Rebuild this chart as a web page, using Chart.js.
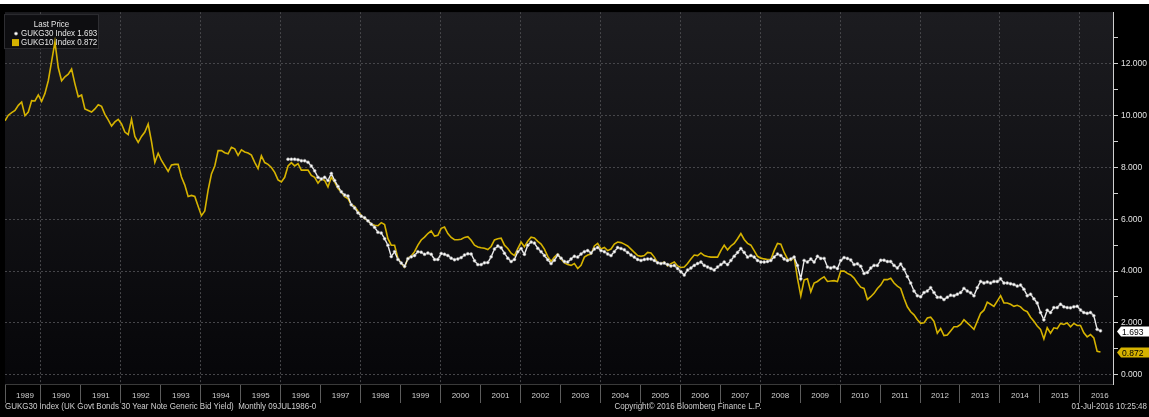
<!DOCTYPE html>
<html><head><meta charset="utf-8">
<script src="https://cdn.jsdelivr.net/npm/chart.js@4.4.0/dist/chart.umd.min.js"></script>
<style>
html,body{margin:0;padding:0;background:#fff;overflow:hidden;}
#strip{height:4px;background:#fff;}
#wrap{position:relative;width:1149px;height:413px;background:#000;}
canvas{display:block;}
</style></head><body>
<div id="strip"></div>
<div id="wrap"><canvas id="c" width="1149" height="413"></canvas></div>
<script>
// ---- data (monthly) ----
const seriesNames = ['GUKG30 Index', 'GUKG10 Index'];
const legendTitle = 'Last Price';
const yearLabels = ['1989','1990','1991','1992','1993','1994','1995','1996','1997','1998','1999','2000','2001','2002','2003','2004','2005','2006','2007','2008','2009','2010','2011','2012','2013','2014','2015','2016'];
const yTicks = [0,1,2,3,4,5,6,7,8,9,10,11,12,13];
const xMin = 1989.1, xMax = 2016.83;
const yMin = -0.36, yMax = 14.0;
const gukg10Start = 1989.1;          // first monthly point
const gukg30Start = 1989.1 + 85/12;  // first monthly point (early 1996)

const gukg10 = [
 9.8,10.02,10.12,10.2,10.4,10.53,10.0,10.14,10.58,10.57,10.8,10.55,
 10.86,11.35,12.1,12.85,11.85,11.35,11.5,11.6,11.8,11.23,10.73,10.8,
 10.26,10.2,10.14,10.26,10.42,10.36,10.05,9.84,9.6,9.76,9.86,9.68,
 9.37,9.27,9.86,9.2,8.97,9.2,9.37,9.68,9.0,8.2,8.55,8.27,
 8.06,7.85,8.1,8.12,8.12,7.63,7.32,6.88,6.92,6.88,6.5,6.14,
 6.32,7.13,7.75,8.06,8.65,8.65,8.57,8.53,8.78,8.72,8.47,8.68,
 8.6,8.56,8.48,8.2,7.96,8.45,8.19,8.12,8.0,7.81,7.52,7.44,
 7.62,8.06,8.19,8.06,8.15,7.9,7.9,7.9,7.69,7.62,7.4,7.56,
 7.5,7.25,7.62,7.44,7.19,7.06,6.87,6.8,6.56,6.5,6.31,6.15,
 6.03,5.95,5.82,5.77,5.75,5.87,5.8,5.25,5.0,5.0,4.5,4.3,
 4.15,4.5,4.58,4.75,5.0,5.2,5.31,5.45,5.55,5.35,5.38,5.65,
 5.7,5.45,5.3,5.21,5.21,5.23,5.3,5.33,5.19,5.0,4.93,4.9,
 4.88,4.83,4.95,5.2,5.25,5.27,5.0,4.87,4.69,4.6,4.87,5.12,
 4.94,5.15,5.31,5.28,5.15,5.04,4.85,4.57,4.37,4.54,4.66,4.47,
 4.32,4.25,4.22,4.29,4.1,4.22,4.54,4.62,4.66,4.97,5.07,4.85,
 4.91,4.79,4.85,5.04,5.12,5.1,5.04,4.97,4.85,4.72,4.6,4.57,
 4.6,4.72,4.7,4.54,4.32,4.29,4.35,4.2,4.29,4.35,4.2,4.14,
 4.16,4.29,4.47,4.62,4.6,4.7,4.6,4.56,4.54,4.54,4.54,4.79,
 5.0,4.82,4.97,5.07,5.25,5.45,5.22,5.07,5.0,4.79,4.57,4.5,
 4.47,4.45,4.45,4.79,5.07,5.04,4.72,4.47,4.41,4.54,3.72,3.04,
 3.66,3.7,3.2,3.54,3.6,3.7,3.78,3.6,3.62,3.63,3.6,4.0,
 4.0,3.91,3.85,3.73,3.54,3.38,3.33,2.9,3.01,3.14,3.33,3.46,
 3.67,3.67,3.72,3.54,3.42,3.33,2.95,2.62,2.43,2.31,2.12,1.98,
 2.0,2.19,2.22,2.06,1.6,1.78,1.51,1.53,1.69,1.85,1.85,1.94,
 2.12,2.0,1.88,1.75,2.06,2.37,2.49,2.8,2.72,2.64,2.84,3.05,
 2.77,2.77,2.72,2.64,2.68,2.62,2.49,2.43,2.22,2.06,1.88,1.75,
 1.38,1.81,1.6,1.81,1.78,1.98,1.94,2.0,1.85,1.98,1.9,1.9,
 1.62,1.46,1.55,1.42,0.9,0.872
];

const gukg30 = [
 8.32,8.32,8.32,8.3,8.26,8.26,8.2,8.06,7.87,7.62,7.56,
 7.62,7.5,7.77,7.5,7.27,7.06,6.94,6.9,6.56,6.44,6.25,6.12,
 6.06,5.94,5.81,5.69,5.5,5.47,5.25,5.0,4.56,4.75,4.45,4.31,
 4.19,4.48,4.55,4.6,4.75,4.73,4.65,4.7,4.65,4.45,4.45,4.68,
 4.65,4.6,4.5,4.44,4.47,4.52,4.62,4.67,4.66,4.4,4.25,4.25,
 4.32,4.33,4.55,4.85,4.97,4.9,4.69,4.5,4.37,4.45,4.75,4.87,
 4.65,5.0,5.12,5.08,4.88,4.75,4.6,4.44,4.29,4.42,4.62,4.5,
 4.37,4.35,4.47,4.57,4.54,4.66,4.75,4.79,4.7,4.85,4.91,4.79,
 4.75,4.66,4.6,4.75,4.91,4.87,4.82,4.72,4.62,4.54,4.45,4.41,
 4.45,4.47,4.47,4.41,4.32,4.29,4.31,4.25,4.2,4.22,4.1,3.97,
 3.85,4.04,4.12,4.22,4.29,4.35,4.22,4.16,4.1,4.04,4.16,4.25,
 4.35,4.25,4.41,4.57,4.72,4.87,4.72,4.54,4.6,4.54,4.41,4.35,
 4.35,4.37,4.41,4.54,4.66,4.6,4.47,4.41,4.47,4.54,4.22,3.7,
 4.41,4.35,4.47,4.35,4.57,4.49,4.49,4.16,4.12,4.16,4.1,4.41,
 4.52,4.49,4.43,4.25,4.28,4.19,3.91,3.95,4.12,4.22,4.22,4.42,
 4.42,4.37,4.37,4.22,4.12,4.27,4.07,3.79,3.54,3.23,3.05,3.01,
 3.17,3.23,3.36,3.17,2.99,2.99,2.9,2.99,3.07,3.05,3.11,3.17,
 3.33,3.23,3.16,3.05,3.36,3.6,3.54,3.58,3.54,3.6,3.6,3.7,
 3.54,3.54,3.51,3.48,3.42,3.46,3.3,3.05,3.11,2.93,2.77,2.4,
 2.12,2.49,2.4,2.59,2.59,2.72,2.62,2.59,2.58,2.62,2.64,2.5,
 2.4,2.37,2.4,2.28,1.75,1.693
];

const footerLeft = 'GUKG30 Index (UK Govt Bonds 30 Year Note Generic Bid Yield)  Monthly 09JUL1986-0';
const footerMid = 'Copyright\u00A9 2016 Bloomberg Finance L.P.';
const footerRight = '01-Jul-2016 10:25:48';

// ---- styles ----
const FONT = "'Liberation Sans',Arial,sans-serif";
const WHITE = '#ececec';
const YELLOW = '#d6b300';
const SQUEEZE = 0.84;

const toPoints = (arr, start) => arr.map((v, i) => ({x: start + i / 12, y: v}));
const yearTicks = yearLabels.map(y => Math.max(Number(y), xMin));

function squeezedText(ctx, text, x, y, align, sx) {
  ctx.save();
  ctx.translate(x, y);
  ctx.scale(sx, 1);
  ctx.textAlign = align;
  ctx.fillText(text, 0, 0);
  ctx.restore();
}

const decor = {
  id: 'decor',
  beforeDraw(chart) {
    const {ctx, chartArea: a} = chart;
    ctx.save();
    ctx.fillStyle = '#000';
    ctx.fillRect(0, 0, chart.width, chart.height);
    const g = ctx.createLinearGradient(0, a.top, 0, a.bottom);
    g.addColorStop(0, '#1c1c20');
    g.addColorStop(1, '#060609');
    ctx.fillStyle = g;
    ctx.fillRect(a.left, a.top, a.right - a.left, a.bottom - a.top);
    ctx.restore();
  },
  beforeDatasetsDraw(chart) {
    const ctx = chart.ctx;
    const a = chart.chartArea;
    const bx = a.left - 1, by = a.top + 2, bw = 95, bh = 35;
    ctx.save();
    ctx.fillStyle = 'rgba(14,14,17,0.95)';
    ctx.fillRect(bx, by, bw, bh);
    ctx.strokeStyle = '#2e2e32';
    ctx.lineWidth = 1;
    ctx.strokeRect(bx + 0.5, by + 0.5, bw - 1, bh - 1);
    ctx.font = '9.5px ' + FONT;
    ctx.fillStyle = '#e6e6e6';
    ctx.textBaseline = 'middle';
    squeezedText(ctx, legendTitle, bx + bw / 2, by + 10, 'center', SQUEEZE);
    const last30 = gukg30[gukg30.length - 1], last10 = gukg10[gukg10.length - 1];
    ctx.beginPath();
    ctx.arc(bx + 12, by + 19.5, 1.6, 0, Math.PI * 2);
    ctx.fillStyle = '#fff'; ctx.fill();
    ctx.strokeStyle = '#999'; ctx.lineWidth = 0.6; ctx.stroke();
    ctx.fillStyle = '#e6e6e6';
    squeezedText(ctx, seriesNames[0] + ' ' + last30.toFixed(3), bx + 17, by + 19.5, 'left', SQUEEZE);
    ctx.fillStyle = YELLOW;
    ctx.fillRect(bx + 8, by + 25, 7, 7);
    ctx.fillStyle = '#e6e6e6';
    squeezedText(ctx, seriesNames[1] + ' ' + last10.toFixed(3), bx + 17, by + 28.5, 'left', SQUEEZE);
    ctx.restore();
  },
  afterDraw(chart) {
    const ctx = chart.ctx;
    const a = chart.chartArea;
    const ys = chart.scales.y;
    ctx.save();
    const tags = [
      {v: gukg30[gukg30.length - 1], bg: '#ffffff'},
      {v: gukg10[gukg10.length - 1], bg: YELLOW}
    ];
    ctx.font = '9.5px ' + FONT;
    ctx.textBaseline = 'middle';
    tags.forEach(t => {
      const y = Math.round(ys.getPixelForValue(t.v)) + 0.5;
      const x0 = a.right + 4;
      ctx.beginPath();
      ctx.moveTo(x0, y);
      ctx.lineTo(x0 + 4, y - 5);
      ctx.lineTo(chart.width, y - 5);
      ctx.lineTo(chart.width, y + 5);
      ctx.lineTo(x0 + 4, y + 5);
      ctx.closePath();
      ctx.fillStyle = t.bg;
      ctx.fill();
      ctx.fillStyle = '#000';
      squeezedText(ctx, t.v.toFixed(3), x0 + 5, y + 0.5, 'left', 0.9);
    });
    const fy = chart.height - 10.5;
    ctx.fillStyle = '#d0d0d0';
    ctx.font = '9.5px ' + FONT;
    squeezedText(ctx, footerLeft, 5, fy, 'left', SQUEEZE);
    squeezedText(ctx, footerMid, 688, fy, 'center', SQUEEZE);
    squeezedText(ctx, footerRight, chart.width - 2, fy, 'right', SQUEEZE);
    ctx.restore();
  }
};

new Chart(document.getElementById('c'), {
  type: 'line',
  data: {
    datasets: [
      {label: seriesNames[0], data: toPoints(gukg30, gukg30Start), borderColor: WHITE, borderWidth: 1.4,
       pointRadius: 1.5, pointBackgroundColor: '#ffffff', pointBorderColor: '#9a9a9a', pointBorderWidth: 0.6, tension: 0},
      {label: seriesNames[1], data: toPoints(gukg10, gukg10Start), borderColor: YELLOW, borderWidth: 1.6,
       pointRadius: 0, tension: 0}
    ]
  },
  options: {
    responsive: false,
    animation: false,
    devicePixelRatio: 1,
    layout: {padding: {left: 5, right: 0, top: 0, bottom: 14}},
    plugins: {legend: {display: false}, tooltip: {enabled: false}},
    scales: {
      x: {
        type: 'linear', min: xMin, max: xMax,
        afterBuildTicks(scale) { scale.ticks = yearTicks.map(v => ({value: v})); },
        afterFit(scale) { scale.height = 19; },
        ticks: {autoSkip: false, maxRotation: 0, minRotation: 0, color: '#cfcfcf',
                font: {family: FONT, size: 8}, padding: -12, labelOffset: 20,
                callback: (v, i) => yearLabels[i]},
        grid: {color: c => (c.tick && Number.isInteger(c.tick.value) && c.tick.value % 2 === 0) ? '#46464a' : 'rgba(0,0,0,0)',
               lineWidth: 1, tickLength: 19, tickColor: '#5c5c5c', drawTicks: true},
        border: {display: true, color: '#3a3a3a', width: 1, dash: [2, 2]}
      },
      y: {
        position: 'right', min: yMin, max: yMax,
        afterBuildTicks(scale) { scale.ticks = yTicks.map(v => ({value: v})); },
        afterFit(scale) { scale.width = 36; },
        ticks: {autoSkip: false, color: '#e2e2e2', font: {family: FONT, size: 8.5}, padding: 3,
                callback: v => (v % 2 === 0 ? v.toFixed(3) : '')},
        grid: {color: c => (c.tick && c.tick.value % 2 === 0) ? '#46464a' : 'rgba(0,0,0,0)',
               lineWidth: 1, tickLength: 5, tickColor: '#d0d0d0', drawTicks: true},
        border: {display: true, color: '#d0d0d0', width: 1, dash: [2, 2]}
      }
    }
  },
  plugins: [decor]
});
</script>
</body></html>
